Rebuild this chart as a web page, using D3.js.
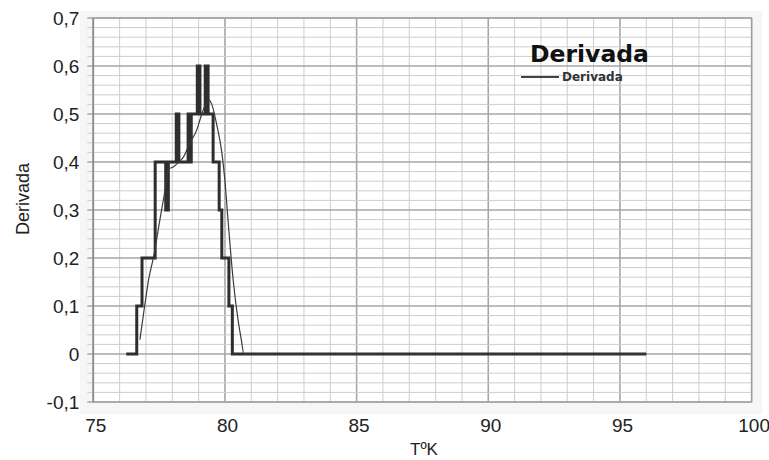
<!DOCTYPE html>
<html>
<head>
<meta charset="utf-8">
<script src="https://cdn.jsdelivr.net/npm/d3@7"></script>
<style>
  body { margin: 0; background: #fff; }
  svg { display: block; }
</style>
</head>
<body>
<script>
// step data (thick line): [T, derivada]
var stepT   = [76.25, 76.65, 76.85, 77.35, 77.75, 77.85, 78.15, 78.25, 78.6, 78.66, 78.72, 78.95, 79.05, 79.25, 79.36, 79.55, 79.78, 79.88, 80.15, 80.28, 96];
var stepVal = [0, 0.1, 0.2, 0.4, 0.3, 0.4, 0.5, 0.4, 0.5, 0.4, 0.5, 0.6, 0.5, 0.6, 0.5, 0.4, 0.3, 0.2, 0.1, 0, 0];

// smooth line (thin)
var smoothT   = [76.77, 76.95, 77.1, 77.28, 77.53, 77.75, 77.85, 78.05, 78.25, 78.42, 78.67, 78.93, 79.12, 79.3, 79.37, 79.5, 79.69, 79.88, 80.0, 80.1, 80.32, 80.5, 80.62, 80.72, 96];
var smoothVal = [0.03, 0.1, 0.155, 0.2, 0.28, 0.35, 0.385, 0.39, 0.4, 0.41, 0.44, 0.467, 0.5, 0.525, 0.53, 0.52, 0.477, 0.42, 0.36, 0.29, 0.15, 0.07, 0.03, 0, 0];

var xTicks = [75, 80, 85, 90, 95, 100];
var yTicks = [-0.1, 0, 0.1, 0.2, 0.3, 0.4, 0.5, 0.6, 0.7];
var yTickLabels = ["-0,1", "0", "0,1", "0,2", "0,3", "0,4", "0,5", "0,6", "0,7"];

var width = 769;
var height = 460;

var svg = d3.select("body")
    .append("svg")
    .attr("width", width)
    .attr("height", height);

var x = d3.scaleLinear().domain([75, 100]).range([93.3, 751.6]);
var y = d3.scaleLinear().domain([-0.1, 0.7]).range([402, 18]);

// faint panel behind the plot
svg.append("rect")
    .attr("x", 80).attr("y", 11)
    .attr("width", 682).attr("height", 403)
    .attr("fill", "#f6f6f6");
svg.append("rect")
    .attr("x", x(75)).attr("y", y(0.7))
    .attr("width", x(100) - x(75)).attr("height", y(-0.1) - y(0.7))
    .attr("fill", "#fff");

var grid = svg.append("g");

// grid, darker every 5 K / every 0.1
grid.selectAll(".vmin")
    .data(d3.range(75, 101, 1))
    .enter().append("line")
    .attr("x1", function(d) { return x(d); })
    .attr("x2", function(d) { return x(d); })
    .attr("y1", y(0.7)).attr("y2", y(-0.1))
    .attr("stroke", function(d) { return d % 5 === 0 ? "#a6a6a6" : "#cdcdcd"; })
    .attr("stroke-width", function(d) { return d % 5 === 0 ? 1.6 : 1; });

grid.selectAll(".hmin")
    .data(d3.range(-5, 36, 1))
    .enter().append("line")
    .attr("x1", x(75) - 6).attr("x2", x(100))
    .attr("y1", function(d) { return y(d * 0.02); })
    .attr("y2", function(d) { return y(d * 0.02); })
    .attr("stroke", function(d) { return d % 5 === 0 ? "#a6a6a6" : "#cdcdcd"; })
    .attr("stroke-width", function(d) { return d % 5 === 0 ? 1.6 : 1; });

// frame
svg.append("rect")
    .attr("x", x(75)).attr("y", y(0.7))
    .attr("width", x(100) - x(75)).attr("height", y(-0.1) - y(0.7))
    .attr("fill", "none")
    .attr("stroke", "#a0a0a0")
    .attr("stroke-width", 1.2);
svg.append("line")
    .attr("x1", x(75)).attr("x2", x(75))
    .attr("y1", y(0.7)).attr("y2", y(-0.1))
    .attr("stroke", "#888")
    .attr("stroke-width", 1.5);

// axes
var yAxis = svg.append("g")
    .attr("transform", "translate(" + x(75) + ",0)")
    .call(d3.axisLeft(y).tickValues(yTicks).tickSize(0).tickPadding(14)
        .tickFormat(function(d, i) { return yTickLabels[i]; }));
yAxis.select(".domain").remove();
yAxis.selectAll("text")
    .attr("font-family", "'Liberation Sans', Arial, sans-serif")
    .attr("font-size", 19)
    .attr("fill", "#222");

var xAxis = svg.append("g")
    .attr("transform", "translate(0," + y(-0.1) + ")")
    .call(d3.axisBottom(x).tickValues(xTicks).tickSize(0).tickPadding(17));
xAxis.select(".domain").remove();
xAxis.selectAll("text")
    .attr("dx", 2)
    .attr("font-family", "'Liberation Sans', Arial, sans-serif")
    .attr("font-size", 19)
    .attr("fill", "#222");

// axis titles
svg.append("text")
    .attr("transform", "translate(29,199) rotate(-90)")
    .attr("text-anchor", "middle")
    .attr("font-family", "'Liberation Sans', Arial, sans-serif")
    .attr("font-size", 18)
    .attr("fill", "#222")
    .text("Derivada");

svg.append("text")
    .attr("x", 424).attr("y", 455)
    .attr("text-anchor", "middle")
    .attr("font-family", "'Liberation Sans', Arial, sans-serif")
    .attr("font-size", 17)
    .attr("fill", "#222")
    .text("TºK");

// lines
var stepData = stepT.map(function(t, i) { return [t, stepVal[i]]; });
var smoothData = smoothT.map(function(t, i) { return [t, smoothVal[i]]; });

var stepLine = d3.line()
    .x(function(d) { return x(d[0]); })
    .y(function(d) { return y(d[1]); })
    .curve(d3.curveStepAfter);

var smoothLine = d3.line()
    .x(function(d) { return x(d[0]); })
    .y(function(d) { return y(d[1]); })
    .curve(d3.curveMonotoneX);

svg.append("path")
    .datum(stepData)
    .attr("d", stepLine)
    .attr("fill", "none")
    .attr("stroke", "#2e2e2e")
    .attr("stroke-width", 3);

svg.append("path")
    .datum(smoothData)
    .attr("d", smoothLine)
    .attr("fill", "none")
    .attr("stroke", "#3a3a3a")
    .attr("stroke-width", 1.2);

// legend
svg.append("text")
    .attr("x", 530).attr("y", 62)
    .attr("font-family", "'DejaVu Sans', Verdana, sans-serif")
    .attr("font-weight", "bold")
    .attr("font-size", 23.5)
    .attr("fill", "#111")
    .text("Derivada");

svg.append("line")
    .attr("x1", 521).attr("x2", 559)
    .attr("y1", 77).attr("y2", 77)
    .attr("stroke", "#444")
    .attr("stroke-width", 2);

svg.append("text")
    .attr("x", 562).attr("y", 81)
    .attr("font-family", "'DejaVu Sans', Verdana, sans-serif")
    .attr("font-weight", "bold")
    .attr("font-size", 12)
    .attr("fill", "#333")
    .text("Derivada");
</script>
</body>
</html>
